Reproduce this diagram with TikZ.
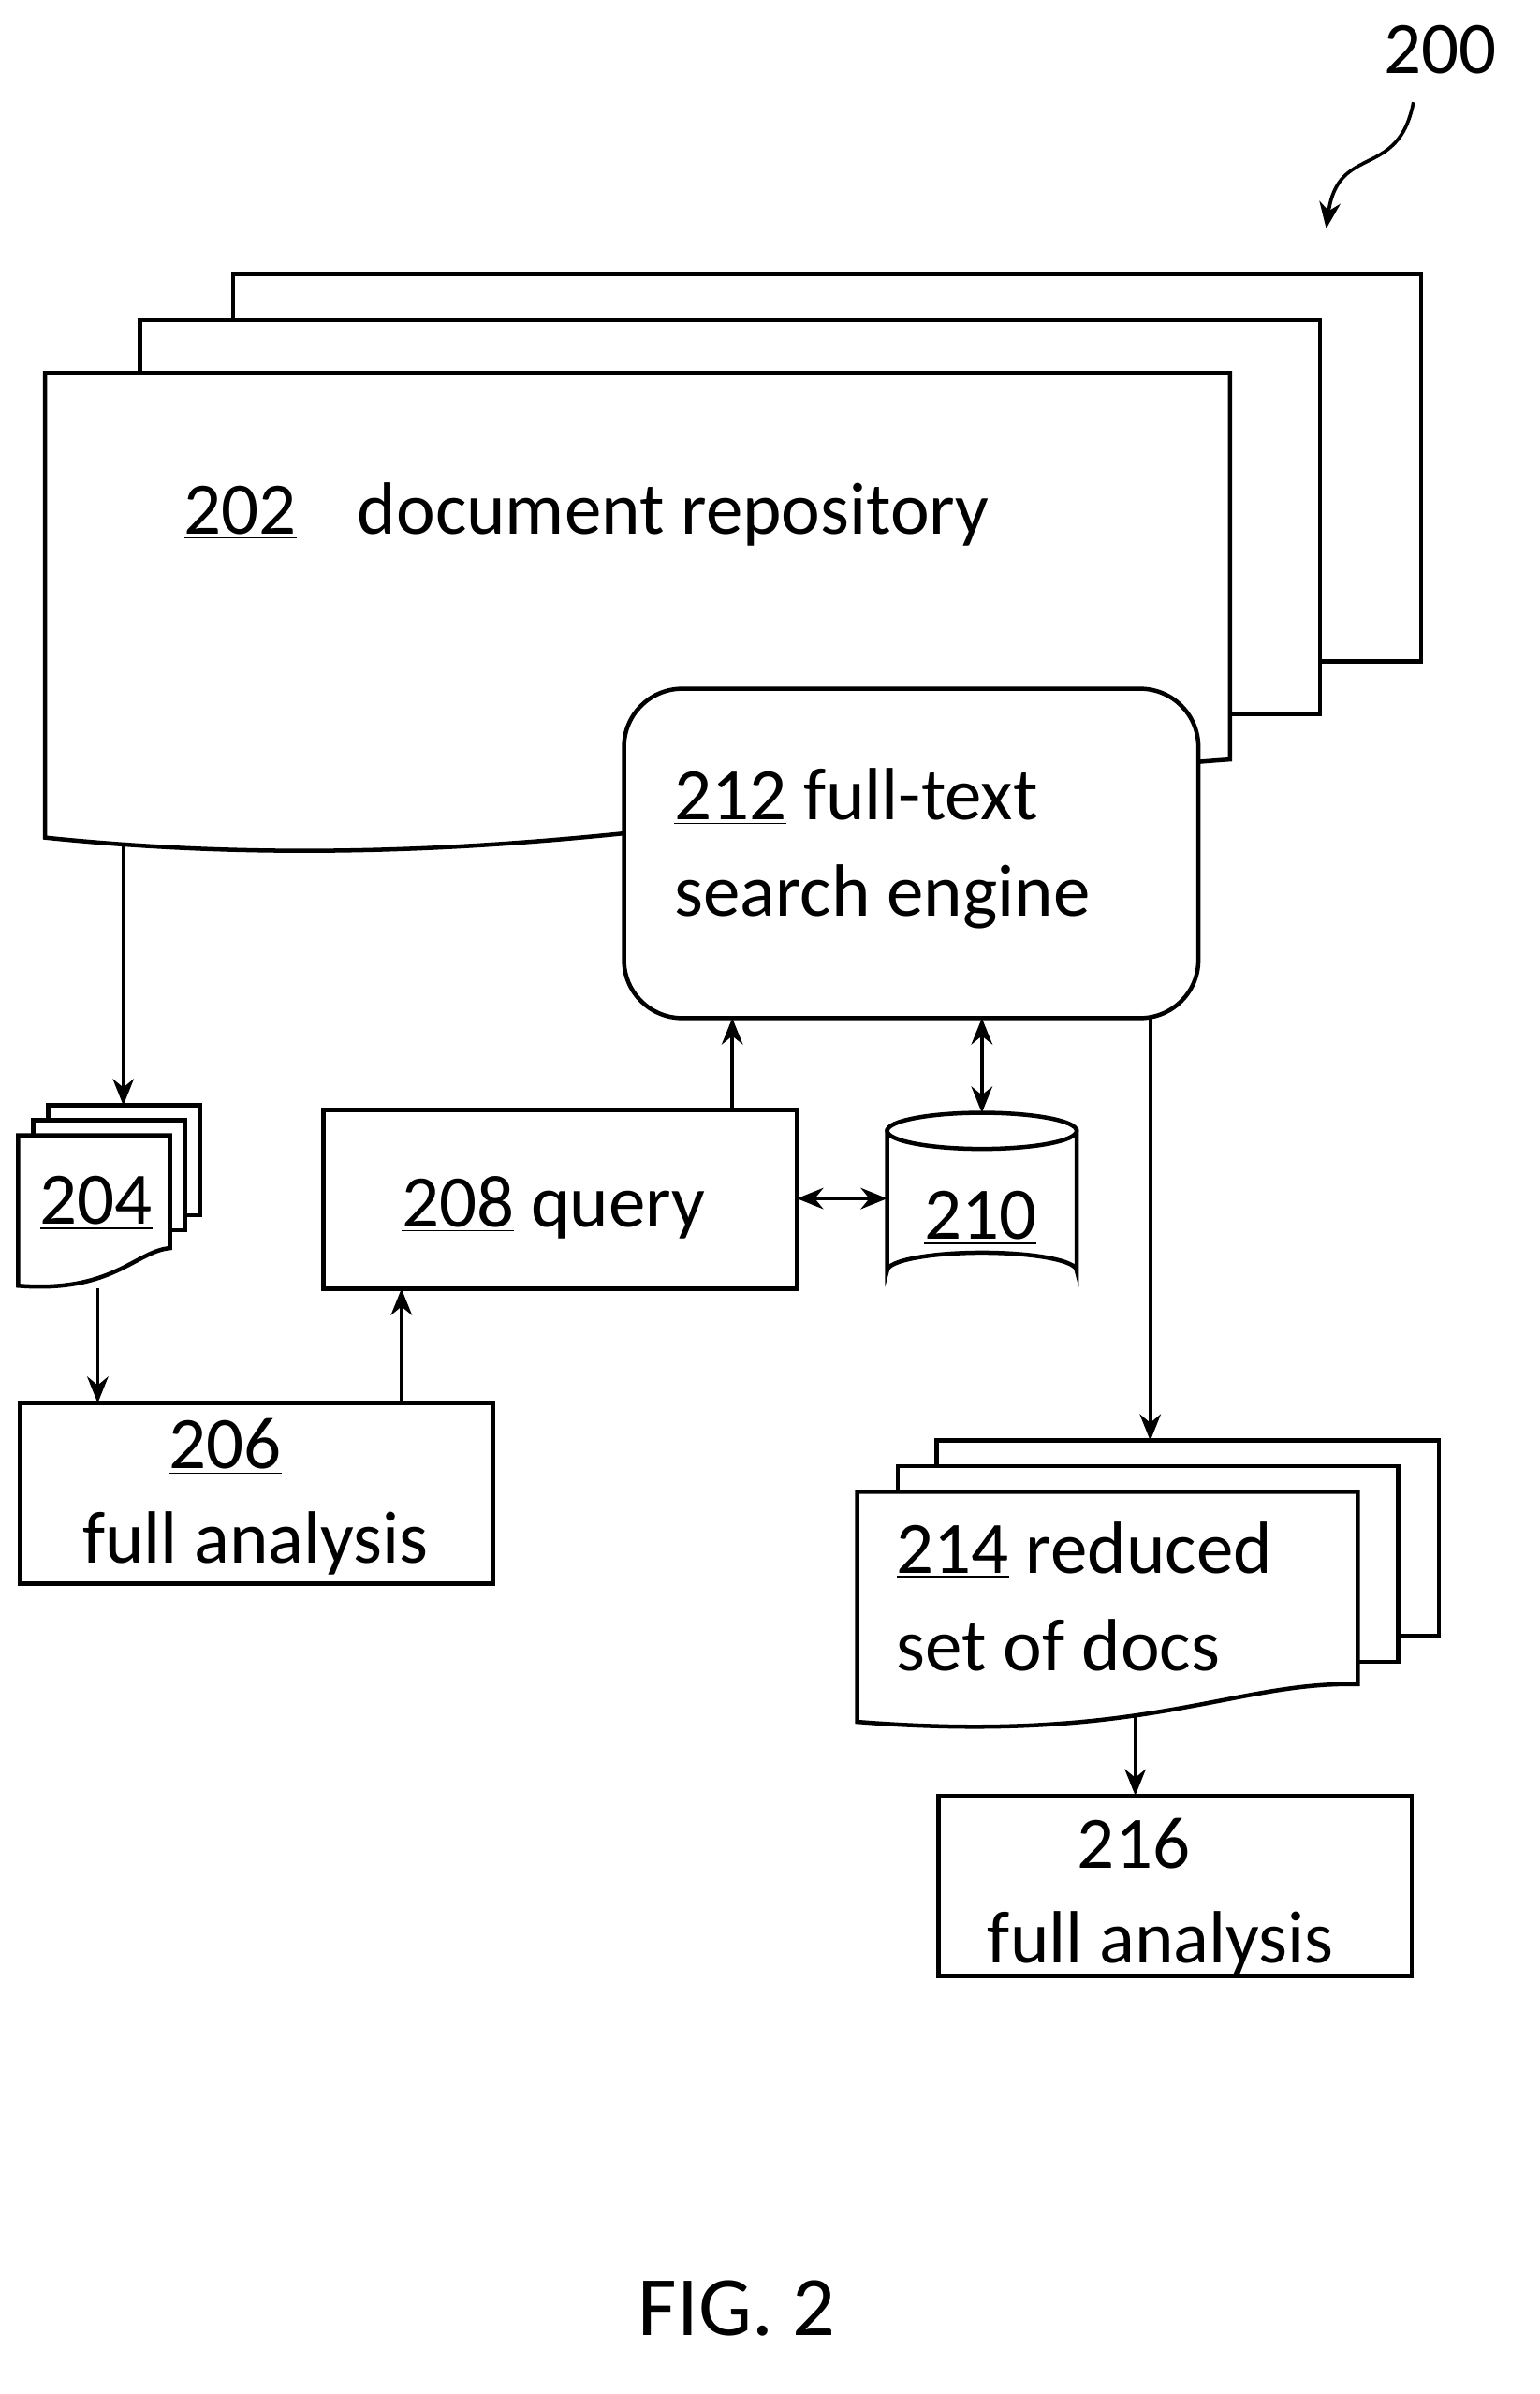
\documentclass[tikz,border=0pt]{standalone}
\usepackage{fontspec}
\setmainfont{Carlito}
\usetikzlibrary{arrows.meta}
\tikzset{
  lbl/.style={font=\fontsize{28}{33}\selectfont,inner sep=0pt},
  line/.style={line width=1.6pt},
  arr/.style={line width=1.3pt,-{Stealth[length=10pt,width=8pt]}},
  darr/.style={line width=1.3pt,{Stealth[length=10pt,width=8pt]}-{Stealth[length=10pt,width=8pt]}}
}
\begin{document}
\begin{tikzpicture}[x=0.02cm,y=-0.02cm]
\useasboundingbox (0,0) rectangle (1024,1592);
% document repository
\draw [line,fill=white] (155,182) rectangle (945,440);
\draw [line,fill=white] (93,213) rectangle (878,475);
\draw [line,fill=white] (30,248) -- (818,248) -- (818,505) .. controls (600,520) and (350,590) .. (30,557) -- cycle;
\node [lbl,anchor=base west] (repo) at (122,355) {\underline{202}\hspace{0.6em} document repository};
\coordinate (repoout) at (82,562);
% search engine
\draw [line,fill=white,rounded corners=22pt] (415,458) rectangle (797,677);
\node [lbl,anchor=base west] (engine) at (448,545) {\underline{212} full-text};
\node [lbl,anchor=base west] at (448,609) {search engine};
\coordinate (engA) at (487,677);
\coordinate (engB) at (653,677);
\coordinate (engC) at (765,677);
% 204 docs
\draw [line,fill=white] (32,735) rectangle (133,808);
\draw [line,fill=white] (22,745) rectangle (123,818);
\draw [line,fill=white] (12,755) -- (113,755) -- (113,830) .. controls (90,832) and (75,860) .. (12,855) -- cycle;
\node [lbl] (docs) at (64,800) {\underline{204}};
\coordinate (docstop) at (82,735);
\coordinate (docsbot) at (65,857);
% 206 analysis
\draw [line] (13,933) rectangle (328,1053);
\node [lbl] (ana) at (150,962) {\underline{206}};
\node [lbl] at (170,1026) {full analysis};
\coordinate (anatopL) at (65,933);
\coordinate (anatopR) at (267,933);
% 208 query
\draw [line] (215,738) rectangle (530,857);
\node [lbl] (query) at (368,803) {\underline{208} query};
\coordinate (qtop) at (487,738);
\coordinate (qbot) at (267,857);
\coordinate (qright) at (530,797);
% 210 database
\draw [line,fill=white] (590,752) -- (590,845) arc (180:360:63 and 12) -- (716,752) -- cycle;
\draw [line,fill=white] (653,752) ellipse (63 and 12);
\node [lbl] (db) at (652,810) {\underline{210}};
\coordinate (dbtop) at (653,740);
\coordinate (dbleft) at (590,797);
% 214 reduced set
\draw [line,fill=white] (623,958) rectangle (957,1088);
\draw [line,fill=white] (597,975) rectangle (930,1105);
\draw [line,fill=white] (570,992) -- (903,992) -- (903,1120) .. controls (820,1118) and (760,1160) .. (570,1145) -- cycle;
\node [lbl,anchor=base west] (red) at (596,1046) {\underline{214} reduced};
\node [lbl,anchor=base west] at (596,1111) {set of docs};
\coordinate (redtop) at (765,958);
\coordinate (redbot) at (755,1140);
% 216 analysis
\draw [line] (624,1194) rectangle (939,1314);
\node [lbl] (ana2) at (754,1228) {\underline{216}};
\node [lbl] at (772,1292) {full analysis};
\coordinate (ana2top) at (755,1194);
% connectors
\draw [arr] (repoout) -- (docstop);
\draw [arr] (docsbot) -- (anatopL);
\draw [arr] (anatopR) -- (qbot);
\draw [arr] (qtop) -- (engA);
\draw [darr] (engB) -- (dbtop);
\draw [darr] (qright) -- (dbleft);
\draw [arr] (engC) -- (redtop);
\draw [arr] (redbot) -- (ana2top);
% labels
\node [lbl] (fig) at (958,33) {200};
\coordinate (figend) at (882,152);
\draw [arr] (940,68) .. controls (930,120) and (890,95) .. (figend);
\node [font=\fontsize{32}{38}\selectfont] (cap) at (490,1535) {FIG. 2};
\end{tikzpicture}
\end{document}
